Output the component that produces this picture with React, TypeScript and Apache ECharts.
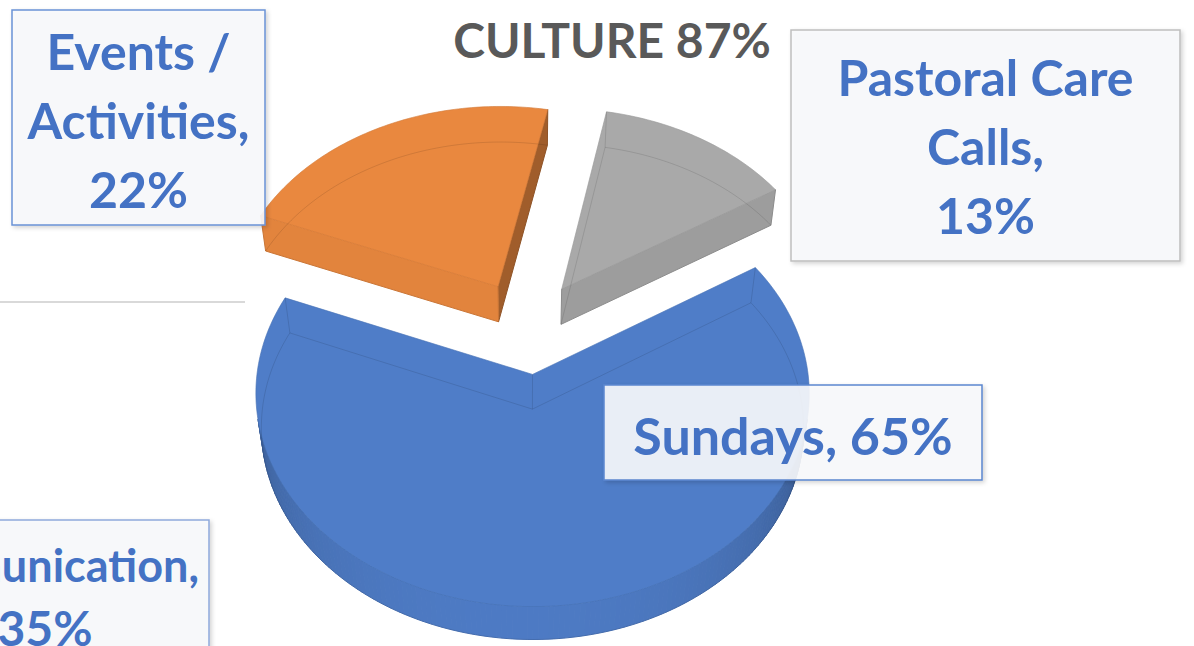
import React, { useEffect, useRef } from "react";
import * as echarts from "echarts";

// ---- data ----
const categories = ["Pastoral Care\nCalls", "Events /\nActivities", "Sundays"];
const values = [13, 22, 65];
const labelSeparators = ["\n", "\n", " "];
const sliceColors = ["#A9A9A9", "#E9883F", "#4F7DC8"];
const titleText = "CULTURE 87%";
const otherCategory = "Communication";
const otherValue = 35;

// ---- 3D view settings ----
const START_DEG = 32;
const S = 270;
const CX = 527;
const CY = 327;
const ALPHA = (48.7 * Math.PI) / 180;
const DIST = 7.5;
const EXPLODE = 0.23;
const THICK = 0.2;
const LIGHT = (265 * Math.PI) / 180;

const total = values.reduce((a, b) => a + b, 0);
const starts: number[] = [];
{
  let acc = 0;
  values.forEach((v) => {
    starts.push(acc);
    acc += v;
  });
}

function proj(X: number, Y: number, Z: number): [number, number, number] {
  const ca = Math.cos(ALPHA);
  const sa = Math.sin(ALPHA);
  const yp = Y * ca + Z * sa;
  const zp = Z * ca - Y * sa;
  const s = DIST / (DIST + zp);
  return [CX + S * X * s, CY - S * yp * s, zp];
}

function shade(hex: string, f: number): string {
  const n = parseInt(hex.slice(1), 16);
  const r = Math.min(255, Math.round(((n >> 16) & 255) * f));
  const g = Math.min(255, Math.round(((n >> 8) & 255) * f));
  const b = Math.min(255, Math.round((n & 255) * f));
  return `rgb(${r},${g},${b})`;
}

function brightness(phi: number): number {
  const c = Math.max(0, Math.cos(phi - LIGHT));
  return 0.58 + 0.4 * Math.pow(c, 0.6);
}

const camZ = -DIST * Math.cos(ALPHA);
function facing(nx: number, nz: number, px: number, pz: number): boolean {
  return nx * (0 - px) + nz * (camZ - pz) > 0;
}

function renderSlice(params: any, api: any) {
  const i = params.dataIndex;
  const st = api.value(0) as number;
  const v = api.value(1) as number;
  const color = sliceColors[i];
  const a0 = ((START_DEG + (st / total) * 360) * Math.PI) / 180;
  const a1 = a0 + (v / total) * Math.PI * 2;
  const m = (a0 + a1) / 2;
  const ox = EXPLODE * Math.cos(m);
  const oz = EXPLODE * Math.sin(m);
  const steps = Math.max(8, Math.round(((a1 - a0) * 180) / Math.PI));
  const angs: number[] = [];
  for (let k = 0; k <= steps; k++) angs.push(a0 + ((a1 - a0) * k) / steps);
  const topArc = angs.map((a) => proj(ox + Math.cos(a), 0, oz + Math.sin(a)));
  const botArc = angs.map((a) => proj(ox + Math.cos(a), -THICK, oz + Math.sin(a)));
  const ct = proj(ox, 0, oz);
  const cb = proj(ox, -THICK, oz);

  const walls: { pts: number[][]; z: number; fill: string }[] = [];
  for (let k = 0; k < steps; k++) {
    const am = (angs[k] + angs[k + 1]) / 2;
    const nx = Math.cos(am);
    const nz = Math.sin(am);
    if (!facing(nx, nz, ox + nx, oz + nz)) continue;
    const pts = [topArc[k], topArc[k + 1], botArc[k + 1], botArc[k]];
    walls.push({
      pts: pts.map((p) => [p[0], p[1]]),
      z: (topArc[k][2] + topArc[k + 1][2]) / 2,
      fill: shade(color, brightness(am)),
    });
  }
  const cuts = [
    { a: a0, nx: Math.sin(a0), nz: -Math.cos(a0), t: topArc[0], b: botArc[0] },
    { a: a1, nx: -Math.sin(a1), nz: Math.cos(a1), t: topArc[steps], b: botArc[steps] },
  ];
  cuts.forEach((c) => {
    const px = ox + 0.5 * Math.cos(c.a);
    const pz = oz + 0.5 * Math.sin(c.a);
    if (!facing(c.nx, c.nz, px, pz)) return;
    const phi = Math.atan2(c.nz, c.nx);
    walls.push({
      pts: [ct, c.t, c.b, cb].map((p) => [p[0], p[1]]),
      z: (ct[2] + c.t[2]) / 2,
      fill: shade(color, brightness(phi)),
    });
  });
  walls.sort((p, q) => q.z - p.z);

  const children: any[] = walls.map((w) => ({
    type: "polygon",
    shape: { points: w.pts },
    style: { fill: w.fill, stroke: w.fill, lineWidth: 1 },
    silent: true,
  }));
  const topPts = [[ct[0], ct[1]], ...topArc.map((p) => [p[0], p[1]])];
  children.push({
    type: "polygon",
    shape: { points: topPts },
    style: { fill: color, stroke: color, lineWidth: 0.6 },
    silent: true,
  });
  const edge = "rgba(0,0,0,0.11)";
  children.push({
    type: "polyline",
    shape: { points: [[cb[0], cb[1]], ...botArc.map((p) => [p[0], p[1]]), [cb[0], cb[1]]] },
    style: { fill: null, stroke: edge, lineWidth: 1 },
    silent: true,
  });
  [[ct, cb], [topArc[0], botArc[0]], [topArc[steps], botArc[steps]]].forEach(([p, q]) => {
    children.push({
      type: "line",
      shape: { x1: p[0], y1: p[1], x2: q[0], y2: q[1] },
      style: { stroke: edge, lineWidth: 1 },
      silent: true,
    });
  });
  children.push({
    type: "polyline",
    shape: { points: topPts.concat([topPts[0]]) },
    style: { fill: null, stroke: "rgba(0,0,0,0.06)", lineWidth: 1 },
    silent: true,
  });
  return { type: "group", children };
}

const FONT = "Lato, 'Open Sans', sans-serif";
const BLUE_TEXT = "#4472C4";

function boxRect(x: number, y: number, w: number, h: number, border: string) {
  return {
    type: "rect",
    z: 100,
    shape: { x, y, width: w, height: h },
    style: {
      fill: "rgba(248,249,252,0.9)",
      stroke: border,
      lineWidth: 1.5,
      shadowBlur: 4,
      shadowColor: "rgba(0,0,0,0.18)",
      shadowOffsetX: 2,
      shadowOffsetY: 2,
    },
  };
}

function boxText(
  x: number,
  y: number,
  text: string,
  fontSize: number,
  lineHeight: number,
  align: string = "center"
) {
  return {
    type: "text",
    z: 101,
    x,
    y,
    style: {
      text,
      fill: BLUE_TEXT,
      font: `bold ${fontSize}px ${FONT}`,
      lineHeight,
      align,
      verticalAlign: "middle",
    },
  };
}

export default function App() {
  const ref = useRef<HTMLDivElement>(null);
  useEffect(() => {
    if (!ref.current) return;
    const chart = echarts.init(ref.current, undefined, { renderer: "svg" });
    const labels = categories.map((c, i) => `${c},${labelSeparators[i]}${values[i]}%`);
    const option: any = {
      animation: false,
      backgroundColor: "#ffffff",
      series: [
        {
          type: "custom",
          coordinateSystem: "none",
          renderItem: renderSlice,
          data: values.map((v, i) => ({ name: categories[i], value: [starts[i], v] })),
          silent: true,
          z: 1,
        },
      ],
      graphic: [
        {
          type: "line",
          z: 50,
          shape: { x1: 0, y1: 302, x2: 245, y2: 302 },
          style: { stroke: "#D9D9D9", lineWidth: 2 },
        },
        {
          type: "text",
          x: 612,
          y: 39,
          z: 100,
          style: {
            text: titleText,
            fill: "#595959",
            font: `bold 48px ${FONT}`,
            align: "center",
            verticalAlign: "middle",
          },
        },
        boxRect(12, 10, 253, 215, "#6A93D6"),
        boxText(138.5, 120, labels[1], 50, 69),
        boxRect(791, 30, 389, 231, "#BFBFBF"),
        boxText(985.5, 146, labels[0], 50, 69),
        boxRect(604, 385, 378, 95, "#5B86CF"),
        boxText(793, 435, labels[2], 52, 60),
        boxRect(-120, 520, 329, 200, "#8EA9DB"),
        boxText(199, 565, `${otherCategory},`, 45, 60, "right"),
        boxText(45, 627, `${otherValue}%`, 48, 60),
      ],
    };
    chart.setOption(option);
    return () => chart.dispose();
  }, []);
  return (
    <div
      ref={ref}
      style={{ position: "fixed", left: 0, top: 0, width: 1194, height: 646, background: "#fff" }}
    />
  );
}
